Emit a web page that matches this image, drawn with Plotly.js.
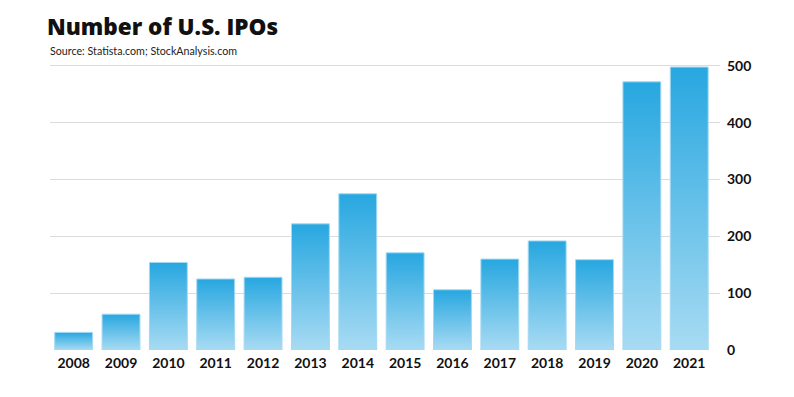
<!DOCTYPE html>
<html>
<head>
<meta charset="utf-8">
<script src="https://cdn.plot.ly/plotly-3.0.1.min.js"></script>
<style>
  html, body { margin: 0; padding: 0; background: #fff; }
  #chart { width: 794px; height: 397px; }
</style>
</head>
<body>
<div id="chart"></div>
<script>
const years = ['2008','2009','2010','2011','2012','2013','2014','2015','2016','2017','2018','2019','2020','2021'];
const ipoCounts = [31, 63, 154, 125, 128, 222, 275, 171, 106, 160, 192, 159, 472, 498];
const yTickValues = [0, 100, 200, 300, 400, 500];
const titleText = 'Number of U.S. IPOs';
const sourceText = 'Source: Statista.com; StockAnalysis.com';

const trace = {
  type: 'bar',
  x: years,
  y: ipoCounts,
  marker: {
    color: '#29a8e0',
    line: { color: '#a3d8f2', width: 1 }
  },
  hoverinfo: 'x+y'
};

const layout = {
  width: 794,
  height: 397,
  margin: { l: 50, r: 74, t: 50, b: 47 },
  paper_bgcolor: '#ffffff',
  plot_bgcolor: '#ffffff',
  bargap: 0.2,
  showlegend: false,
  title: {
    text: titleText,
    font: { family: '"Open Sans", Lato, sans-serif', size: 22.5, weight: 800, color: '#111111' },
    xref: 'container', yref: 'container',
    x: 47 / 794, xanchor: 'left',
    y: 1 - 27 / 397, yanchor: 'middle'
  },
  annotations: [{
    text: sourceText,
    xref: 'paper', yref: 'paper',
    x: (48 - 50) / 670, xanchor: 'left',
    y: (350 - 50) / 300, yanchor: 'middle',
    showarrow: false,
    font: { family: 'Lato, "Open Sans", sans-serif', size: 10.7, color: '#222222' }
  }],
  xaxis: {
    type: 'category',
    range: [-0.5, 13.65],
    showgrid: false,
    zeroline: false,
    showline: false,
    ticks: '',
    tickfont: { family: 'Lato, "Open Sans", sans-serif', size: 14, weight: 'bold', color: '#111111' },
    ticklabelstandoff: 3,
    fixedrange: true
  },
  yaxis: {
    side: 'right',
    range: [0, 528],
    tickvals: yTickValues,
    ticktext: yTickValues.map(String),
    showgrid: true,
    gridcolor: '#dcdcdc',
    gridwidth: 1,
    zeroline: true,
    zerolinecolor: '#ffffff',
    zerolinewidth: 2,
    showline: false,
    ticks: '',
    ticklabelstandoff: 6,
    tickfont: { family: 'Lato, "Open Sans", sans-serif', size: 14, weight: 'bold', color: '#111111' },
    fixedrange: true
  }
};

Plotly.newPlot('chart', [trace], layout, { displayModeBar: false, staticPlot: true }).then(function (gd) {
  const svgNS = 'http://www.w3.org/2000/svg';
  const svg = gd.querySelector('.main-svg');
  let defs = svg.querySelector('defs');
  if (!defs) { defs = document.createElementNS(svgNS, 'defs'); svg.insertBefore(defs, svg.firstChild); }
  const grad = document.createElementNS(svgNS, 'linearGradient');
  grad.setAttribute('id', 'ipoBarGradient');
  grad.setAttribute('x1', '0'); grad.setAttribute('y1', '0');
  grad.setAttribute('x2', '0'); grad.setAttribute('y2', '1');
  [['0%', '#27a7e0'], ['100%', '#a8dbf3']].forEach(function (s) {
    const stop = document.createElementNS(svgNS, 'stop');
    stop.setAttribute('offset', s[0]);
    stop.setAttribute('stop-color', s[1]);
    grad.appendChild(stop);
  });
  defs.appendChild(grad);
  gd.querySelectorAll('.barlayer .point path').forEach(function (p) {
    p.style.fill = 'url(#ipoBarGradient)';
  });
});
</script>
</body>
</html>
